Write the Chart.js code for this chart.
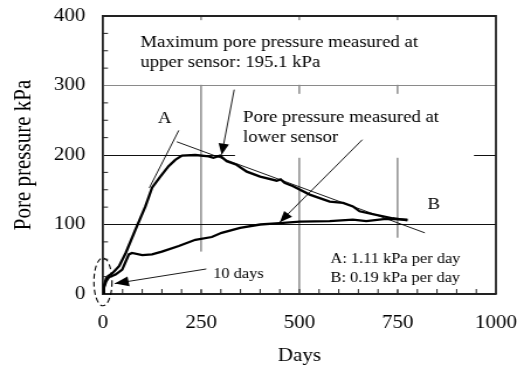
<!DOCTYPE html>
<html>
<head>
<meta charset="utf-8">
<script src="https://cdn.jsdelivr.net/npm/chart.js@4.4.1/dist/chart.umd.min.js"></script>
<style>
  html, body { margin: 0; padding: 0; background: #fff; }
</style>
</head>
<body>
<!-- drawn narrower and stretched to 517px, the original figure is stretched sideways -->
<canvas id="porePressure" width="442" height="367" style="width:517px;height:367px;display:block"></canvas>
<script>
var xTickValues = [0, 250, 500, 750, 1000];
var yTickValues = [0, 100, 200, 300, 400];

// upper sensor
var upperDays = [0, 2.5, 8, 11, 24, 41, 58, 83, 108, 125, 146, 167, 184, 201, 235, 269, 281, 298, 315, 340, 366, 400, 442, 452, 462, 484, 526, 577, 611, 636, 653, 695, 737, 775];
var upperKPa = [0, 11, 22, 25, 30, 40, 59, 93, 126, 153, 169, 184, 193, 199, 200, 198, 196, 199, 191, 186, 176, 169, 163, 165, 160, 155, 143, 133, 131, 126, 119, 114, 109, 106];

// lower sensor
var lowerDays = [0, 2.5, 8, 15, 32, 49, 66, 74, 100, 125, 150, 193, 235, 277, 302, 349, 400, 450, 501, 577, 636, 670, 720, 775];
var lowerKPa = [0, 9, 18, 24, 28, 35, 57, 59, 56, 57, 61, 69, 78, 82, 88, 95, 100, 102, 104, 105, 107, 105, 108, 107];

// tangent lines A and B
var tangentADays = [118, 193];
var tangentAKPa = [152.6, 235.4];
var tangentBDays = [188, 819];
var tangentBKPa = [219, 88];

function points(xs, ys) {
  return xs.map(function (v, i) { return { x: v, y: ys[i] }; });
}

const serif = 'Liberation Serif';

function arrow(ctx, x0, y0, x1, y1, len, half) {
  ctx.beginPath();
  ctx.moveTo(x0, y0);
  ctx.lineTo(x1, y1);
  ctx.stroke();
  const a = Math.atan2(y1 - y0, x1 - x0);
  const bx = x1 - len * Math.cos(a), by = y1 - len * Math.sin(a);
  ctx.beginPath();
  ctx.moveTo(x1, y1);
  ctx.lineTo(bx + half * Math.sin(a), by - half * Math.cos(a));
  ctx.lineTo(bx - half * Math.sin(a), by + half * Math.cos(a));
  ctx.closePath();
  ctx.fill();
}

const figureNotes = {
  id: 'figureNotes',
  beforeDatasetsDraw(chart) {
    const ctx = chart.ctx, x = chart.scales.x, y = chart.scales.y;
    const px = v => x.getPixelForValue(v), py = v => y.getPixelForValue(v);
    ctx.save();
    // label backgrounds hide the grid, as in the original
    ctx.fillStyle = '#fff';
    [[70, 805, 394, 301], [336, 944, 288, 196], [235, 425, 61, 6], [551, 932, 81, 6]].forEach(function (b) {
      ctx.fillRect(px(b[0]), py(b[2]), px(b[1]) - px(b[0]), py(b[3]) - py(b[2]));
    });
    ctx.fillStyle = '#000';
    ctx.textBaseline = 'alphabetic';
    ctx.font = '16px "' + serif + '"';
    ctx.fillText('Maximum pore pressure measured at', px(95.5), py(356));
    ctx.fillText('upper sensor: 195.1 kPa', px(95.5), py(327));
    ctx.fillText('Pore pressure measured at', px(356.5), py(248));
    ctx.fillText('lower sensor', px(356.5), py(219));
    ctx.textAlign = 'center';
    ctx.textBaseline = 'middle';
    ctx.fillText('A', px(157), py(252));
    ctx.fillText('B', px(841.6), py(128.5));
    ctx.textAlign = 'left';
    ctx.textBaseline = 'alphabetic';
    ctx.font = '14px "' + serif + '"';
    ctx.fillText('10 days', px(280.5), py(23.5));
    ctx.fillText('A: 1.11 kPa per day', px(579), py(45));
    ctx.fillText('B: 0.19 kPa per day', px(579), py(17.7));
    ctx.restore();
  },
  afterDatasetsDraw(chart) {
    const ctx = chart.ctx, x = chart.scales.x, y = chart.scales.y;
    const area = chart.chartArea;
    const px = v => x.getPixelForValue(v), py = v => y.getPixelForValue(v);
    ctx.save();
    ctx.strokeStyle = '#000';
    ctx.fillStyle = '#000';
    ctx.lineWidth = 0.9;
    arrow(ctx, px(334), py(294), px(302), py(200.5), 11, 4.5);
    arrow(ctx, px(660), py(222), px(450), py(103.3), 11, 4.5);
    arrow(ctx, px(263), py(36), px(30), py(15), 12, 5);

    // dashed ring round the first days
    ctx.setLineDash([5, 3]);
    ctx.lineWidth = 1.1;
    ctx.beginPath();
    ctx.ellipse(px(0), py(17.5), px(23) - px(0), py(17.5) - py(52), 0, 0, Math.PI * 2);
    ctx.stroke();
    ctx.setLineDash([]);

    // minor ticks inside the frame
    ctx.strokeStyle = '#222';
    ctx.lineWidth = 1;
    ctx.beginPath();
    for (let v = 25; v < 400; v += 25) {
      if (v % 100 === 0) continue;
      ctx.moveTo(area.left, py(v));
      ctx.lineTo(area.left + 4.3, py(v));
    }
    for (let d = 50; d < 1000; d += 50) {
      ctx.moveTo(px(d), area.bottom);
      ctx.lineTo(px(d), area.bottom - 5);
    }
    ctx.stroke();

    // top and right frame
    ctx.strokeStyle = '#222';
    ctx.lineWidth = 2;
    ctx.beginPath();
    ctx.moveTo(area.left, area.top);
    ctx.lineTo(area.right, area.top);
    ctx.stroke();
    ctx.lineWidth = 1.8;
    ctx.beginPath();
    ctx.moveTo(area.right, area.top - 1);
    ctx.lineTo(area.right, area.bottom);
    ctx.stroke();
    ctx.restore();
  }
};

new Chart('porePressure', {
  type: 'line',
  data: {
    datasets: [{
      label: 'Upper sensor',
      data: points(upperDays, upperKPa),
      borderColor: '#000',
      borderWidth: 2.3,
      pointRadius: 0
    }, {
      label: 'Lower sensor',
      data: points(lowerDays, lowerKPa),
      borderColor: '#000',
      borderWidth: 2.3,
      pointRadius: 0
    }, {
      label: 'A',
      data: points(tangentADays, tangentAKPa),
      borderColor: '#000',
      borderWidth: 0.9,
      pointRadius: 0
    }, {
      label: 'B',
      data: points(tangentBDays, tangentBKPa),
      borderColor: '#000',
      borderWidth: 0.9,
      pointRadius: 0
    }]
  },
  options: {
    responsive: false,
    animation: false,
    devicePixelRatio: 1,
    layout: { padding: { left: 0, top: 16, right: 18, bottom: 0 } },
    plugins: {
      legend: { display: false },
      tooltip: { enabled: false }
    },
    scales: {
      x: {
        type: 'linear',
        min: 0,
        max: 1000,
        afterBuildTicks: function (s) { s.ticks = xTickValues.map(v => ({ value: v })); },
        afterFit: function (s) { s.height = 73; s.paddingLeft = 0; s.paddingRight = 0; },
        ticks: { color: '#000', padding: 18, maxRotation: 0, font: { family: serif, size: 18 }, callback: v => String(v) },
        grid: {
          drawTicks: false,
          lineWidth: 1.7,
          color: ctx => (ctx.tick.value === 0 || ctx.tick.value === 1000) ? 'rgba(0,0,0,0)' : '#9a9a9a'
        },
        border: { color: '#222', width: 2 },
        title: { display: true, text: 'Days', color: '#000', font: { family: serif, size: 18 }, padding: { top: 0, bottom: 0 } }
      },
      y: {
        min: 0,
        max: 400,
        afterBuildTicks: function (s) { s.ticks = yTickValues.map(v => ({ value: v })); },
        afterFit: function (s) { s.width = 88; s.paddingTop = 0; s.paddingBottom = 0; },
        ticks: { color: '#000', padding: 15, font: { family: serif, size: 18 }, callback: v => String(v) },
        grid: {
          drawTicks: false,
          lineWidth: 1,
          color: function (ctx) {
            const v = ctx.tick.value;
            if (v === 100 || v === 200) return '#111';
            if (v === 300) return '#8a8a8a';
            return 'rgba(0,0,0,0)';
          }
        },
        border: { color: '#222', width: 1.8 },
        title: { display: true, text: 'Pore pressure kPa', color: '#000', font: { family: serif, size: 21 }, padding: { top: 8, bottom: 0 } }
      }
    }
  },
  plugins: [figureNotes]
});
</script>
</body>
</html>
